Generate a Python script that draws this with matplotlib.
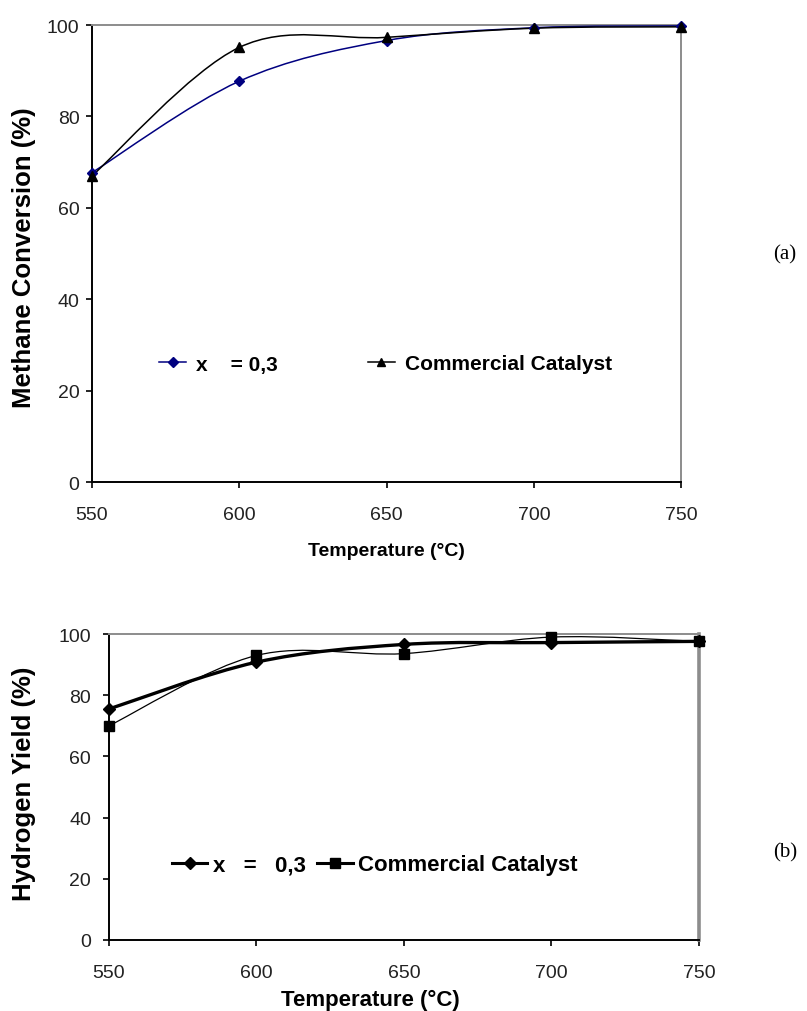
import numpy as np
import matplotlib
matplotlib.use("Agg")
import matplotlib.pyplot as plt
from matplotlib.path import Path
from matplotlib.patches import PathPatch
from matplotlib.lines import Line2D
from matplotlib import font_manager

# --- data ---------------------------------------------------------------
temperature = [550, 600, 650, 700, 750]

# (a) methane conversion (%)
conv_x03 = [67.7, 87.7, 96.6, 99.4, 99.8]
conv_commercial = [67.0, 95.1, 97.3, 99.3, 99.6]

# (b) hydrogen yield (%)
yield_x03 = [75.5, 90.8, 96.6, 97.2, 97.6]
yield_commercial = [70.0, 93.0, 93.6, 99.0, 97.6]

x_ticks = [550, 600, 650, 700, 750]
y_ticks = [0, 20, 40, 60, 80, 100]
labels_a = ["x    = 0,3", "Commercial Catalyst"]
labels_b = ["x   =   0,3", "Commercial Catalyst"]

# --- fonts --------------------------------------------------------------
names = {f.name for f in font_manager.fontManager.ttflist}
SANS = "Liberation Sans" if "Liberation Sans" in names else "DejaVu Sans"
SERIF = "Liberation Serif" if "Liberation Serif" in names else "DejaVu Serif"
plt.rcParams['font.family'] = SANS


def smooth_path(xs, ys):
    # Excel-style smoothed line: cubic Bezier segments through every point
    xs = np.asarray(xs, float)
    ys = np.asarray(ys, float)
    n = len(xs)
    verts = [(xs[0], ys[0])]
    codes = [Path.MOVETO]
    for i in range(n - 1):
        p0 = (xs[max(i - 1, 0)], ys[max(i - 1, 0)])
        p1 = (xs[i], ys[i])
        p2 = (xs[i + 1], ys[i + 1])
        p3 = (xs[min(i + 2, n - 1)], ys[min(i + 2, n - 1)])
        c1 = (p1[0] + (p2[0] - p0[0]) / 6, p1[1] + (p2[1] - p0[1]) / 6)
        c2 = (p2[0] - (p3[0] - p1[0]) / 6, p2[1] - (p3[1] - p1[1]) / 6)
        verts += [c1, c2, p2]
        codes += [Path.CURVE4] * 3
    return Path(verts, codes)


def style_axes(ax, right_lw, label_pad_y):
    ax.set_xlim(550, 750)
    ax.set_ylim(0, 100)
    ax.set_xticks(x_ticks)
    ax.set_yticks(y_ticks)
    for s in ("left", "bottom"):
        ax.spines[s].set_color("black")
        ax.spines[s].set_linewidth(1.4)
    ax.spines["top"].set_color("#8c8c8c")
    ax.spines["top"].set_linewidth(1.4)
    ax.spines["right"].set_color("#8c8c8c")
    ax.spines["right"].set_linewidth(right_lw)
    ax.tick_params(axis="both", direction="out", length=4, width=1.2,
                   colors="black", labelsize=14, labelcolor="#222222")
    ax.tick_params(axis="x", pad=13)
    ax.tick_params(axis="y", pad=label_pad_y)


fig = plt.figure(figsize=(8.07, 10.12), dpi=100)

# ---------------- (a) methane conversion ----------------
ax1 = fig.add_axes([0.114, 0.5227, 0.730, 0.4516])
style_axes(ax1, 1.4, 5)
navy = "#000080"
ax1.add_patch(PathPatch(smooth_path(temperature, conv_x03), fill=False,
                        edgecolor=navy, lw=1.1, zorder=3))
ax1.add_patch(PathPatch(smooth_path(temperature, conv_commercial), fill=False,
                        edgecolor="black", lw=1.1, zorder=3))
ax1.plot(temperature, conv_x03, ls="none", marker="D", ms=5.5, color=navy,
         clip_on=False, zorder=4)
ax1.plot(temperature, conv_commercial, ls="none", marker="^", ms=7.5,
         color="black", clip_on=False, zorder=4)

h1 = [Line2D([], [], color=navy, lw=1.1, marker="D", ms=5),
      Line2D([], [], color="black", lw=1.1, marker="^", ms=6)]
fig.legend(h1, labels_a, ncol=2, frameon=False, loc="center left",
           bbox_to_anchor=(0.197, 1 - 365 / 1012), bbox_transform=fig.transFigure,
           borderpad=0, borderaxespad=0, handlelength=1.3, handletextpad=0.5,
           columnspacing=4.3, prop={"weight": "bold", "size": 15})

fig.text(24 / 807, 1 - 258 / 1012, "Methane Conversion (%)", rotation=90,
         ha="center", va="center", fontsize=18.5, fontweight="bold")
fig.text(386 / 807, 1 - 552 / 1012, "Temperature (°C)", ha="center", va="center",
         fontsize=14, fontweight="bold")
fig.text(785 / 807, 1 - 255 / 1012, "(a)", ha="center", va="center",
         fontsize=15, family=SERIF)

# ---------------- (b) hydrogen yield ----------------
ax2 = fig.add_axes([0.135, 0.0702, 0.731, 0.3023])
style_axes(ax2, 2.6, 9)
ax2.add_patch(PathPatch(smooth_path(temperature, yield_x03), fill=False,
                        edgecolor="black", lw=2.4, zorder=3))
ax2.add_patch(PathPatch(smooth_path(temperature, yield_commercial), fill=False,
                        edgecolor="black", lw=0.9, zorder=3))
ax2.plot(temperature, yield_x03, ls="none", marker="D", ms=6, color="black",
         clip_on=False, zorder=4)
ax2.plot(temperature, yield_commercial, ls="none", marker="s", ms=7,
         color="black", clip_on=False, zorder=4)

h2 = [Line2D([], [], color="black", lw=2.2, marker="D", ms=6),
      Line2D([], [], color="black", lw=2.2, marker="s", ms=7)]
fig.legend(h2, labels_b, ncol=2, frameon=False, loc="center left",
           bbox_to_anchor=(0.213, 1 - 866 / 1012), bbox_transform=fig.transFigure,
           borderpad=0, borderaxespad=0, handlelength=1.6, handletextpad=0.25,
           columnspacing=0.5, prop={"weight": "bold", "size": 16})

fig.text(24 / 807, 1 - 784 / 1012, "Hydrogen Yield (%)", rotation=90,
         ha="center", va="center", fontsize=18.5, fontweight="bold")
fig.text(370 / 807, 1 - 1000 / 1012, "Temperature (°C)", ha="center", va="center",
         fontsize=16, fontweight="bold")
fig.text(785 / 807, 1 - 853 / 1012, "(b)", ha="center", va="center",
         fontsize=15, family=SERIF)

fig.savefig("out.png", dpi=100)
